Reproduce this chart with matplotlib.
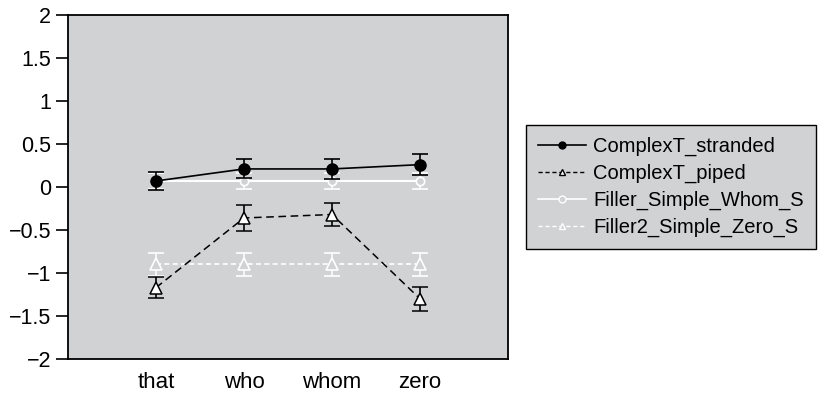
import matplotlib
matplotlib.use("Agg")
import matplotlib.pyplot as plt
import numpy as np

plt.rcParams['font.family'] = ['Liberation Sans', 'DejaVu Sans']

categories = ["that", "who", "whom", "zero"]
stranded = [0.07, 0.21, 0.21, 0.26]
stranded_err = [0.10, 0.11, 0.12, 0.12]
piped = [-1.17, -0.36, -0.32, -1.30]
piped_err = [0.12, 0.15, 0.13, 0.14]
filler_whom = [0.07, 0.07, 0.07, 0.07]
filler_whom_err = [0.09, 0.09, 0.09, 0.09]
filler_zero = [-0.90, -0.90, -0.90, -0.90]
filler_zero_err = [0.13, 0.13, 0.13, 0.13]
yticks = [-2, -1.5, -1, -0.5, 0, 0.5, 1, 1.5, 2]
ytick_labels = ["\u22122", "\u22121.5", "\u22121", "\u22120.5", "0", "0.5", "1", "1.5", "2"]

bg = "#d1d2d4"
fig = plt.figure(figsize=(8.28, 3.97), dpi=100)
ax = fig.add_axes([68/828, 1-359/397, 440/828, 344/397])
ax.set_facecolor(bg)
x = np.arange(1, len(categories)+1)

# filler lines (white) first
ax.errorbar(x, filler_zero, yerr=filler_zero_err, color="white", ls=(0, (3, 2)), lw=1.2,
            marker="^", ms=8, mfc=bg, mec="white", mew=1.2, capsize=6, elinewidth=1.1,
            capthick=1.1, label="Filler2_Simple_Zero_S", zorder=2)
ax.errorbar(x, filler_whom, yerr=filler_whom_err, color="white", ls="-", lw=1.5,
            marker="o", ms=6, mfc=bg, mec="white", mew=1.2, capsize=6, elinewidth=1.1,
            capthick=1.1, label="Filler_Simple_Whom_S", zorder=2)
ax.errorbar(x, piped, yerr=piped_err, color="black", ls=(0, (5, 3)), lw=1.1,
            marker="^", ms=9, mfc="white", mec="black", mew=1.1, capsize=6, elinewidth=1.2,
            capthick=1.2, label="ComplexT_piped", zorder=3)
ax.errorbar(x, stranded, yerr=stranded_err, color="black", ls="-", lw=1.2,
            marker="o", ms=8, mfc="black", mec="black", capsize=6, elinewidth=1.2,
            capthick=1.2, label="ComplexT_stranded", zorder=4)

ax.set_xlim(0, 5)
ax.set_ylim(-2, 2)
ax.set_xticks(x)
ax.set_xticklabels(categories, fontsize=16)
ax.set_yticks(yticks)
ax.set_yticklabels(ytick_labels, fontsize=15.5)
ax.tick_params(axis='x', length=0, pad=9)
ax.tick_params(axis='y', direction='out', length=9, width=1.2, pad=3)
for s in ax.spines.values():
    s.set_linewidth(1.3)
    s.set_color("black")

# legend with small markers
from matplotlib.lines import Line2D
handles = [
    Line2D([], [], color="black", ls="-", lw=1.2, marker="o", ms=5, mfc="black", mec="black"),
    Line2D([], [], color="black", ls=(0, (3, 2)), lw=1.0, marker="^", ms=5, mfc="white", mec="black"),
    Line2D([], [], color="white", ls="-", lw=1.2, marker="o", ms=5, mfc=bg, mec="white"),
    Line2D([], [], color="white", ls=(0, (3, 2)), lw=1.0, marker="^", ms=5, mfc=bg, mec="white"),
]
labels = ["ComplexT_stranded", "ComplexT_piped", "Filler_Simple_Whom_S", "Filler2_Simple_Zero_S"]
leg = fig.legend(handles, labels, loc="upper left", bbox_to_anchor=(526/828, 1-125/397),
                 fontsize=14.5, frameon=True, fancybox=False, facecolor=bg, edgecolor="black",
                 framealpha=1, handlelength=2.4, handletextpad=0.35, labelspacing=0.38,
                 borderpad=0.6, borderaxespad=0)
leg.get_frame().set_linewidth(1.0)

fig.savefig("out.png", dpi=100)
